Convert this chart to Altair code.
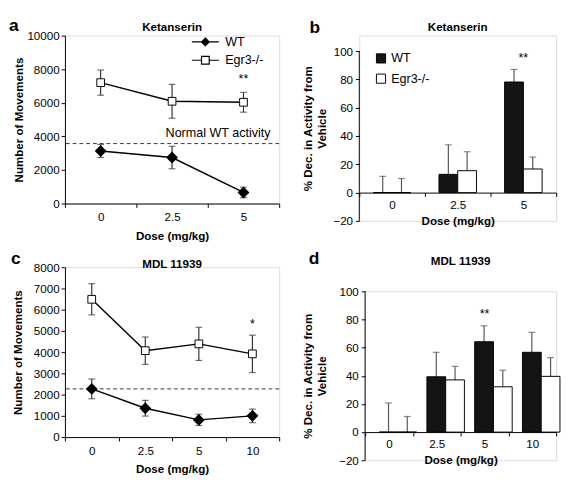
import altair as alt
import pandas as pd

FONT = "Liberation Sans"
GROUPS = ["WT", "Egr3-/-"]

# ---- panel a (Ketanserin, movements) ----
doses_a = ["0", "2.5", "5"]
wt_a = [3130, 2740, 660]
wt_a_err = [390, 670, 310]
egr_a = [7200, 6090, 6030]
egr_a_err = [750, 1010, 590]
normal_a = 3570

# ---- panel c (MDL 11939, movements) ----
doses_c = ["0", "2.5", "5", "10"]
wt_c = [2270, 1360, 810, 1000]
wt_c_err = [465, 370, 265, 320]
egr_c = [6490, 4070, 4390, 3920]
egr_c_err = [735, 645, 780, 880]
normal_c = 2270

# ---- panel b (Ketanserin, % decrease) ----
wt_b = [0, 12.9, 78.2]
wt_b_err = [11.5, 20.9, 8.9]
egr_b = [0, 15.5, 16.7]
egr_b_err = [10, 13.4, 8.4]

# ---- panel d (MDL 11939, % decrease) ----
wt_d = [0, 39.3, 64.2, 56.7]
wt_d_err = [20.7, 17.4, 11.3, 14.2]
egr_d = [0, 37.1, 32.2, 39.6]
egr_d_err = [11.1, 9.6, 11.8, 13.3]

AX = dict(labelFont=FONT, labelFontSize=12, titleFont=FONT, titleFontSize=12,
          titleFontWeight="bold", labelColor="black", titleColor="black",
          domainColor="black", tickColor="black", tickSize=4, grid=False,
          labelOverlap=False)

DIAMOND = "M0,-1L1,0L0,1L-1,0Z"
SQUARE = "M-1,-1H1V1H-1Z"
LEG_DIAMOND = "M-3.5,0H3.5M0,-1L1,0L0,1L-1,0Z"
LEG_SQUARE = "M-3.5,0H-1M1,0H3.5M-1,-1H1V1H-1Z"


def label_text(txt, px, py, size, weight="bold"):
    return alt.Chart(pd.DataFrame({"t": [txt]})).mark_text(
        font=FONT, fontSize=size, fontWeight=weight, align="center", baseline="middle",
        color="black"
    ).encode(text="t:N", x=alt.value(px), y=alt.value(py))


def line_panel(doses, wt, wt_err, egr, egr_err, yticks, normal, star, star_y,
               title, let, w, h, title_y, let_pos, ytpad, note=None, legend=False):
    rows = []
    for g, vals, errs in (("WT", wt, wt_err), ("Egr3-/-", egr, egr_err)):
        for d, v, e in zip(doses, vals, errs):
            rows.append(dict(dose=d, group=g, value=v, lo=v - e, hi=v + e))
    df = pd.DataFrame(rows)
    x = alt.X("dose:N", sort=doses,
              scale=alt.Scale(domain=doses, paddingInner=0, paddingOuter=0),
              axis=alt.Axis(title="Dose (mg/kg)", labelAngle=0, tickBand="extent",
                            labelPadding=5, titlePadding=8, **AX))
    yscale = alt.Scale(domain=[yticks[0], yticks[-1]])
    yaxis = alt.Axis(title="Number of Movements", values=yticks, format="d",
                     labelPadding=2, titlePadding=ytpad, **AX)

    def Y(f):
        return alt.Y(f, scale=yscale, axis=yaxis, title="Number of Movements")

    base = alt.Chart(df)
    err = base.mark_rule(color="#333", strokeWidth=1.2).encode(
        x=x, y=Y("lo:Q"), y2="hi:Q")
    caps_hi = base.mark_tick(color="#333", thickness=1.2, size=7, orient="horizontal").encode(
        x=x, y=Y("hi:Q"))
    caps_lo = base.mark_tick(color="#333", thickness=1.2, size=7, orient="horizontal").encode(
        x=x, y=Y("lo:Q"))
    lines = base.mark_line(color="black", strokeWidth=1.5).encode(
        x=x, y=Y("value:Q"), detail="group:N")
    pts_wt = base.transform_filter(alt.datum.group == "WT").mark_point(
        shape=DIAMOND, size=90, filled=True, fill="black", stroke="black", opacity=1
    ).encode(x=x, y=Y("value:Q"))
    pts_eg = base.transform_filter(alt.datum.group == "Egr3-/-").mark_point(
        shape=SQUARE, size=64, filled=True, fill="white", stroke="black", strokeWidth=1, opacity=1
    ).encode(x=x, y=Y("value:Q"))
    dashed = alt.Chart(pd.DataFrame({"n": [normal]})).mark_rule(
        color="#333", strokeDash=[4, 3], strokeWidth=1).encode(y=Y("n:Q"))
    star_t = alt.Chart(pd.DataFrame({"d": [star[0]], "t": [star[1]], "v": [star_y]})).mark_text(
        font=FONT, fontSize=13, color="black", baseline="middle").encode(
        x=alt.X("d:N", sort=doses), y=Y("v:Q"), text="t:N")
    layers = [dashed, err, caps_hi, caps_lo, lines, pts_wt, pts_eg, star_t]
    if note is not None:
        layers.append(alt.Chart(pd.DataFrame({"t": [note[0]], "v": [note[1]]})).mark_text(
            font=FONT, fontSize=13, align="right", baseline="middle", color="black"
        ).encode(x=alt.value(w - 9), y=Y("v:Q"), text="t:N"))
    if legend:
        leg_props = dict(title=None, orient="none", legendX=w - 83, legendY=0,
                         symbolSize=64, labelOffset=14, labelFont=FONT,
                         symbolStrokeWidth=1.2,
                         labelFontSize=13, rowPadding=5, labelColor="black")
        leg = base.transform_filter("false").mark_point(
            filled=True, strokeWidth=1.2, opacity=1).encode(
            x=x, y=Y("value:Q"),
            shape=alt.Shape("group:N", scale=alt.Scale(domain=GROUPS, range=[LEG_DIAMOND, LEG_SQUARE]),
                            legend=alt.Legend(**leg_props)),
            fill=alt.Fill("group:N", scale=alt.Scale(domain=GROUPS, range=["black", "white"]),
                          legend=alt.Legend(**leg_props)),
            stroke=alt.Stroke("group:N", scale=alt.Scale(domain=GROUPS, range=["black", "black"]),
                              legend=alt.Legend(**leg_props)))
        layers.append(leg)
    layers.append(label_text(title, w / 2, title_y, 12))
    layers.append(label_text(let, let_pos[0], let_pos[1], 18))
    return alt.layer(*layers).properties(width=w, height=h)


def bar_panel(doses, wt, wt_err, egr, egr_err, star, star_y, title, let, w, h,
              title_y, let_pos, ytpad, top_room=0, legend=False):
    rows = []
    for g, vals, errs in (("WT", wt, wt_err), ("Egr3-/-", egr, egr_err)):
        for d, v, e in zip(doses, vals, errs):
            rows.append(dict(dose=d, group=g, value=v, top=v + e))
    df = pd.DataFrame(rows)
    lo, hi = -20, 100
    dom_hi = hi + top_room
    x = alt.X("dose:N", sort=doses,
              scale=alt.Scale(domain=doses, paddingInner=0, paddingOuter=0),
              axis=alt.Axis(title="Dose (mg/kg)", labelAngle=0, tickBand="extent",
                            offset=-h * (0 - lo) / (dom_hi - lo), labelPadding=3,
                            titlePadding=6, **AX))
    xo = alt.XOffset("group:N", sort=GROUPS,
                     scale=alt.Scale(domain=GROUPS, paddingOuter=0.75, paddingInner=0))
    yscale = alt.Scale(domain=[lo, dom_hi])
    ytitle = ["% Dec. in Activity from", "Vehicle"]
    yaxis = alt.Axis(title=ytitle, values=list(range(lo, hi + 1, 20)), labelPadding=3,
                     titlePadding=ytpad, domain=False, **AX)

    def Y(f):
        return alt.Y(f, scale=yscale, axis=yaxis, title=ytitle)

    base = alt.Chart(df)
    fill_leg = alt.Legend(title=None, orient="none", legendX=16,
                          legendY=1 + h * top_room / (dom_hi - lo), symbolType="square",
                          symbolSize=90, symbolStrokeColor="black", symbolStrokeWidth=1,
                          labelFont=FONT, labelFontSize=13, rowPadding=6, labelOffset=4,
                          labelColor="black") if legend else None
    bars = base.mark_bar(stroke="black", strokeWidth=1).encode(
        x=x, xOffset=xo, y=Y("value:Q"),
        fill=alt.Fill("group:N", scale=alt.Scale(domain=GROUPS, range=["#141414", "white"]),
                      legend=fill_leg))
    err = base.mark_rule(color="#555", strokeWidth=1.2).encode(
        x=x, xOffset=xo, y=Y("value:Q"), y2="top:Q")
    cap = base.mark_tick(color="#555", thickness=1.2, size=7, orient="horizontal").encode(
        x=x, xOffset=xo, y=Y("top:Q"))
    star_t = alt.Chart(pd.DataFrame({"d": [star], "t": ["**"], "v": [star_y]})).mark_text(
        font=FONT, fontSize=13, color="black", baseline="middle").encode(
        x=alt.X("d:N", sort=doses), y=Y("v:Q"), text="t:N")
    # y axis line drawn over the labelled range only
    yline = alt.Chart(pd.DataFrame({"a": [lo], "b": [hi]})).mark_rule(
        color="black", strokeWidth=1).encode(x=alt.value(0), y=Y("a:Q"), y2="b:Q")
    return alt.layer(err, cap, bars, star_t, yline,
                     label_text(title, w / 2, title_y, 12),
                     label_text(let, let_pos[0], let_pos[1], 18)).properties(width=w, height=h)


pa = line_panel(doses_a, wt_a, wt_a_err, egr_a, egr_a_err, list(range(0, 10001, 2000)),
                normal_a, ("5", "**"), 7400, "Ketanserin", "a", 222, 174, -9, (-53, -10), 2,
                note=("Normal WT activity", 4190), legend=True)
pc = line_panel(doses_c, wt_c, wt_c_err, egr_c, egr_c_err, list(range(0, 8001, 1000)),
                normal_c, ("10", "*"), 5300, "MDL 11939", "c", 222, 176, -3, (-51, -8), 9)
pb = bar_panel(doses_a, wt_b, wt_b_err, egr_b, egr_b_err, "5", 95, "Ketanserin", "b",
               204, 192, -9, (-46, -8), 5, top_room=11, legend=True)
pd_ = bar_panel(doses_c, wt_d, wt_d_err, egr_d, egr_d_err, "5", 84, "MDL 11939", "d",
                198, 175, -31, (-53, -33), 11)

chart = alt.concat(pa, pb, pc, pd_, columns=2, align="none", bounds="full",
                   spacing={"row": 8, "column": 22}).resolve_scale(
    fill="independent", shape="independent", stroke="independent").configure_view(
    stroke=None).configure(padding=0, background="white")

chart.save("out.html", embed_options={"renderer": "svg", "actions": False})
